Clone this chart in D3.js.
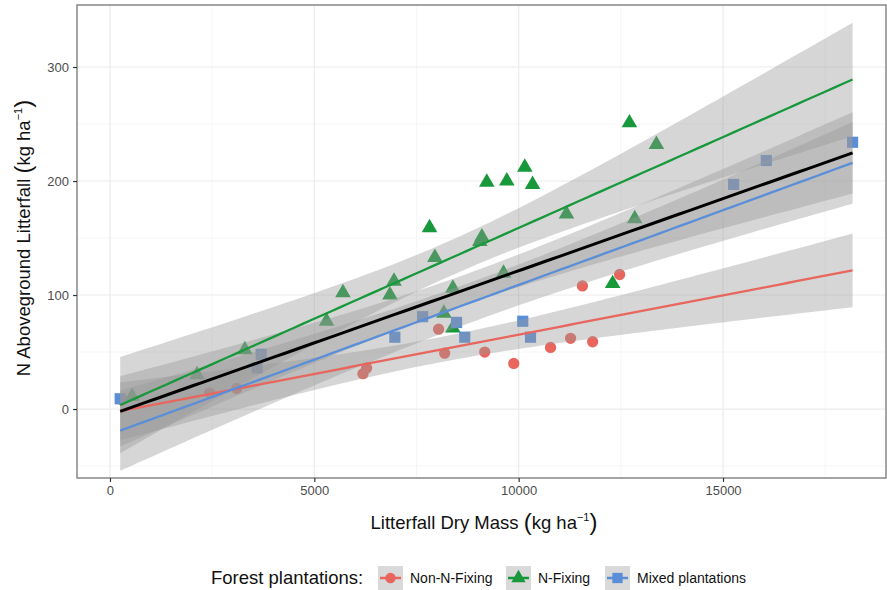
<!DOCTYPE html>
<html><head><meta charset="utf-8">
<script src="https://cdn.jsdelivr.net/npm/d3@7"></script>
<style>body{margin:0;background:#fff} svg{display:block} text{font-family:"Liberation Sans",Arial,sans-serif}</style>
</head><body><svg id="c" width="887" height="590"></svg>
<script>
// ---- data ----
const groupNames = ["Non-N-Fixing", "N-Fixing", "Mixed plantations"];
const groupColors = ["#E8665E", "#17983B", "#5A8ED8"];
const nonFixX = [300, 2440, 3100, 6190, 6280, 8040, 8190, 9170, 9880, 10780, 11270, 11560, 11810, 12470];
const nonFixY = [8, 14, 18, 31, 36, 70, 49, 50, 40, 54, 62, 108, 59, 118];
const nFixX = [540, 2130, 3300, 5300, 5700, 6850, 6950, 7820, 7950, 8170, 8390, 8390, 9050, 9100, 9220, 9630, 9710, 10150, 10340, 11170, 12300, 12710, 12840, 13370];
const nFixY = [11, 30, 52, 77, 102, 100, 112, 159, 133, 84, 106, 71, 147, 151, 199, 119, 200, 212, 197, 171, 110, 251, 167, 232];
const mixedX = [250, 3600, 3700, 6970, 7650, 8480, 8680, 10100, 10290, 15260, 16060, 18170];
const mixedY = [9, 36, 48, 63, 81, 76, 63, 77, 63, 197, 218, 234];
const xTicks = [0, 5000, 10000, 15000];
const yTicks = [0, 100, 200, 300];
const xMinor = [2500, 7500, 12500, 17500];
const yMinor = [-50, 50, 150, 250];

const svg = d3.select("#c");
const P = {l: 77, t: 5, r: 886, b: 478};
const x = d3.scaleLinear().domain([-807, 18988]).range([P.l, P.r]);
const y = d3.scaleLinear().domain([-60.5, 354.4]).range([P.b, P.t]);

const groups = [
  {name: groupNames[0], color: groupColors[0], xs: nonFixX, ys: nonFixY, sym: d3.symbolCircle, size: 100},
  {name: groupNames[1], color: groupColors[1], xs: nFixX, ys: nFixY, sym: d3.symbolTriangle, size: 105},
  {name: groupNames[2], color: groupColors[2], xs: mixedX, ys: mixedY, sym: d3.symbolSquare, size: 125}
];

// grid
const g = svg.append("g");
g.selectAll(".gxm").data(xMinor).join("line").attr("x1", d => x(d)).attr("x2", d => x(d))
  .attr("y1", P.t).attr("y2", P.b).attr("stroke", "#f4f4f4").attr("stroke-width", 0.8);
g.selectAll(".gym").data(yMinor).join("line").attr("y1", d => y(d)).attr("y2", d => y(d))
  .attr("x1", P.l).attr("x2", P.r).attr("stroke", "#f4f4f4").attr("stroke-width", 0.8);
g.selectAll(".gx").data(xTicks).join("line").attr("x1", d => x(d)).attr("x2", d => x(d))
  .attr("y1", P.t).attr("y2", P.b).attr("stroke", "#ebebeb").attr("stroke-width", 1.2);
g.selectAll(".gy").data(yTicks).join("line").attr("y1", d => y(d)).attr("y2", d => y(d))
  .attr("x1", P.l).attr("x2", P.r).attr("stroke", "#ebebeb").attr("stroke-width", 1.2);

// points
groups.forEach(gr => {
  svg.append("g").selectAll("path").data(gr.xs.map((v, i) => [v, gr.ys[i]])).join("path")
    .attr("d", d3.symbol().type(gr.sym).size(gr.size))
    .attr("transform", d => `translate(${x(d[0])},${y(d[1])})`)
    .attr("fill", gr.color);
});

// regression (lm with 95% confidence band)
function tq(df) {
  const z = 1.959964;
  return z + (z ** 3 + z) / (4 * df) + (5 * z ** 5 + 16 * z ** 3 + 3 * z) / (96 * df * df) +
    (3 * z ** 7 + 19 * z ** 5 + 17 * z ** 3 - 15 * z) / (384 * df ** 3);
}
function fit(xs, ys) {
  const n = xs.length, mx = d3.mean(xs), my = d3.mean(ys);
  let sxx = 0, sxy = 0;
  xs.forEach((v, i) => { sxx += (v - mx) ** 2; sxy += (v - mx) * (ys[i] - my); });
  const b = sxy / sxx, a = my - b * mx;
  let sse = 0;
  xs.forEach((v, i) => { sse += (ys[i] - a - b * v) ** 2; });
  const s = Math.sqrt(sse / (n - 2));
  const t = tq(n - 2);
  return {a, b, pred: v => a + b * v, se: v => t * s * Math.sqrt(1 / n + (v - mx) ** 2 / sxx)};
}
const allX = [].concat(nonFixX, nFixX, mixedX);
const allY = [].concat(nonFixY, nFixY, mixedY);
const xr = d3.extent(allX);
const grid = d3.range(0, 81).map(i => xr[0] + (xr[1] - xr[0]) * i / 80);

const fits = groups.map(gr => ({fit: fit(gr.xs, gr.ys), color: gr.color, w: 2.3}));
fits.push({fit: fit(allX, allY), color: "#000", w: 3});

const area = d3.area().x(d => x(d.x)).y0(d => y(d.lo)).y1(d => y(d.hi));
const line = d3.line().x(d => x(d.x)).y(d => y(d.m));
fits.forEach(f => {
  const pts = grid.map(v => ({x: v, m: f.fit.pred(v), lo: f.fit.pred(v) - f.fit.se(v), hi: f.fit.pred(v) + f.fit.se(v)}));
  f.pts = pts;
  svg.append("path").attr("d", area(pts)).attr("fill", "#999").attr("fill-opacity", 0.4);
});
fits.forEach(f => {
  svg.append("path").attr("d", line(f.pts)).attr("fill", "none").attr("stroke", f.color).attr("stroke-width", f.w);
});

// panel border
svg.append("rect").attr("x", P.l).attr("y", P.t).attr("width", P.r - P.l).attr("height", P.b - P.t)
  .attr("fill", "none").attr("stroke", "#7f7f7f").attr("stroke-width", 1.4);

// axes
const xa = svg.append("g").attr("transform", `translate(0,${P.b})`)
  .call(d3.axisBottom(x).tickValues(xTicks).tickFormat(d3.format("d")).tickSize(4).tickPadding(4));
const ya = svg.append("g").attr("transform", `translate(${P.l},0)`)
  .call(d3.axisLeft(y).tickValues(yTicks).tickFormat(d3.format("d")).tickSize(4).tickPadding(4));
[xa, ya].forEach(a => {
  a.select(".domain").remove();
  a.selectAll(".tick line").attr("stroke", "#333").attr("stroke-width", 1.2);
  a.selectAll(".tick text").attr("fill", "#4d4d4d").style("font-size", "13px").style("font-family", "Liberation Sans, Arial, sans-serif");
});

// axis titles
function title(sel, main) {
  sel.append("tspan").text(main);
  sel.append("tspan").text("(").style("font-size", "24px").attr("dy", 1);
  sel.append("tspan").text("kg  ha").attr("dy", -1);
  sel.append("tspan").text("−1").style("font-size", "11px").attr("dy", -8);
  sel.append("tspan").text(")").style("font-size", "24px").attr("dy", 9);
}
const xt = svg.append("text").attr("x", 484).attr("y", 529).attr("text-anchor", "middle")
  .attr("fill", "#111").style("font-size", "18.5px");
title(xt, "Litterfall  Dry  Mass  ");

const yt = svg.append("text").attr("transform", "translate(30,238) rotate(-90)").attr("text-anchor", "middle")
  .attr("fill", "#111").style("font-size", "18.5px");
title(yt, "N  Aboveground  Litterfall  ");

// legend
const ly = 578;
svg.append("text").attr("x", 211).attr("y", ly + 6).text("Forest plantations:")
  .attr("fill", "#111").style("font-size", "18.5px");
const keyX = [378, 506, 605];
const labX = [410, 538, 637];
groups.forEach((gr, i) => {
  const kg = svg.append("g").attr("transform", `translate(${keyX[i]},${ly - 12})`);
  kg.append("rect").attr("width", 25).attr("height", 24).attr("fill", "#d9d9d9");
  kg.append("line").attr("x1", 2).attr("x2", 23).attr("y1", 12).attr("y2", 12).attr("stroke", gr.color).attr("stroke-width", 2.5);
  kg.append("path").attr("d", d3.symbol().type(gr.sym).size(gr.size * 0.85)).attr("transform", "translate(12.5,12)").attr("fill", gr.color);
  svg.append("text").attr("x", labX[i]).attr("y", ly + 5).text(gr.name).attr("fill", "#111").style("font-size", "14px");
});
</script></body></html>
